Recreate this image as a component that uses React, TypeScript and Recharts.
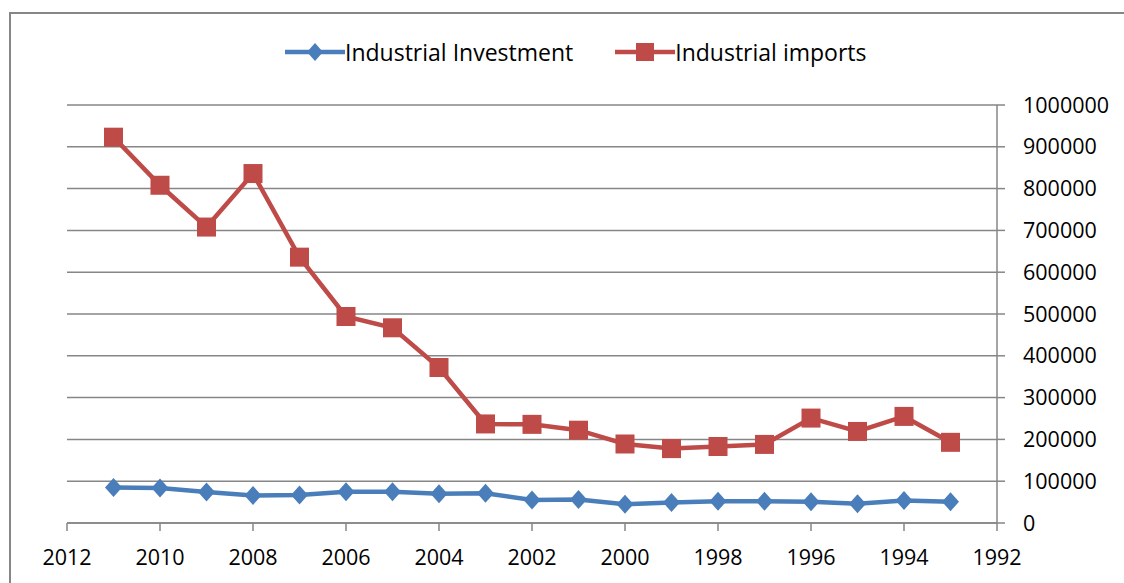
import { CartesianGrid, Line, LineChart, XAxis, YAxis } from "recharts";

const years = [2011, 2010, 2009, 2008, 2007, 2006, 2005, 2004, 2003, 2002, 2001, 2000, 1999, 1998, 1997, 1996, 1995, 1994, 1993];
const investment = [85000, 84000, 74000, 66000, 67000, 75000, 75000, 70000, 71000, 55000, 56000, 45000, 49000, 52000, 52000, 51000, 46000, 54000, 51000];
const imports = [923000, 808000, 708000, 836000, 636000, 494000, 467000, 372000, 237000, 236000, 222000, 189000, 178000, 183000, 188000, 251000, 219000, 255000, 193000];
const xTicks = [2012, 2010, 2008, 2006, 2004, 2002, 2000, 1998, 1996, 1994, 1992];
const yTicks = [0, 100000, 200000, 300000, 400000, 500000, 600000, 700000, 800000, 900000, 1000000];

const BLUE = "#4A7EBB";
const RED = "#BE4B48";
const GRID = "#868686";
const FONT = "'Open Sans', sans-serif";

const data = years.map((year, i) => ({ year, investment: investment[i], imports: imports[i] }));

const diamond = (props: any) => {
  const { cx, cy, index } = props;
  return (
    <polygon
      key={`dm-${index}`}
      points={`${cx},${cy - 9.5} ${cx + 8.5},${cy} ${cx},${cy + 9.5} ${cx - 8.5},${cy}`}
      fill={BLUE}
    />
  );
};

const square = (props: any) => {
  const { cx, cy, index } = props;
  return <rect key={`sq-${index}`} x={cx - 9.5} y={cy - 9.5} width={19} height={19} fill={RED} />;
};

export default function App() {
  return (
    <div style={{ position: "absolute", left: 0, top: 0, width: 1124, height: 583, background: "#fff", overflow: "hidden", fontFamily: FONT }}>
      <div
        style={{
          position: "absolute",
          left: 9,
          top: 12,
          width: 1130,
          height: 600,
          borderLeft: `2px solid ${GRID}`,
          borderTop: `2px solid ${GRID}`,
        }}
      />
      <LineChart
        width={1124}
        height={583}
        data={data}
        margin={{ top: 105, right: 17, bottom: 10, left: 67 }}
        style={{ position: "absolute", left: 0, top: 0 }}
      >
        <CartesianGrid vertical={false} stroke={GRID} strokeWidth={1.5} />
        <XAxis
          dataKey="year"
          type="number"
          domain={[1992, 2012]}
          ticks={xTicks}
          reversed
          height={50}
          tickSize={8}
          tickMargin={19}
          axisLine={{ stroke: GRID, strokeWidth: 1.5 }}
          tickLine={{ stroke: GRID, strokeWidth: 1.5 }}
          tick={{ fontSize: 21.5, fill: "#000", fontFamily: FONT }}
        />
        <YAxis
          orientation="right"
          domain={[0, 1000000]}
          ticks={yTicks}
          width={110}
          tickSize={8}
          tickMargin={18}
          axisLine={{ stroke: GRID, strokeWidth: 1.5 }}
          tickLine={{ stroke: GRID, strokeWidth: 1.5 }}
          tick={{ fontSize: 21.5, fill: "#000", fontFamily: FONT }}
        />
        <Line dataKey="investment" stroke={BLUE} strokeWidth={4.5} dot={diamond} isAnimationActive={false} />
        <Line dataKey="imports" stroke={RED} strokeWidth={4.5} dot={square} isAnimationActive={false} />
      </LineChart>
      {/* legend */}
      <div style={{ position: "absolute", left: 285, top: 37, display: "flex", alignItems: "center", fontSize: 23, lineHeight: "30px", color: "#000" }}>
        <svg width={60} height={30}>
          <line x1={0} y1={15} x2={60} y2={15} stroke={BLUE} strokeWidth={4.5} />
          <polygon points="30,6 38,15 30,24 22,15" fill={BLUE} />
        </svg>
        <span style={{ marginRight: 42 }}>Industrial Investment</span>
        <svg width={60} height={30}>
          <line x1={0} y1={15} x2={60} y2={15} stroke={RED} strokeWidth={4.5} />
          <rect x={21} y={6} width={18} height={18} fill={RED} />
        </svg>
        <span>Industrial imports</span>
      </div>
    </div>
  );
}
